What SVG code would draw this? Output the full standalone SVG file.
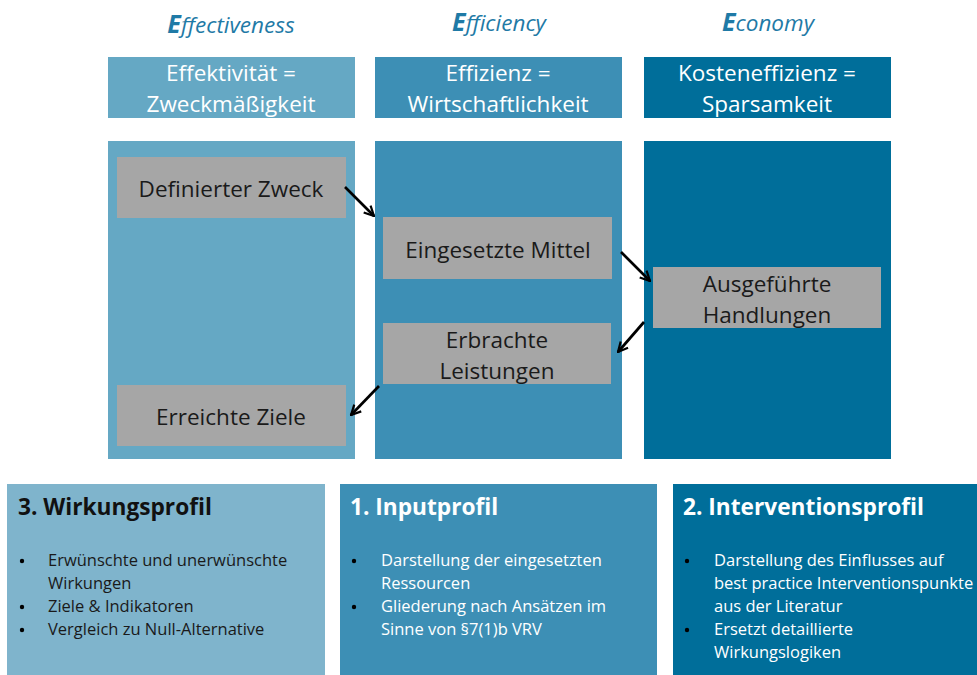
<svg xmlns="http://www.w3.org/2000/svg" width="977" height="675" viewBox="0 0 977 675">
<defs>
<marker id="ah" viewBox="0 0 10 10" refX="9" refY="5" markerWidth="4.5" markerHeight="4.5" orient="auto-start-reverse" markerUnits="strokeWidth">
<path d="M1,1 L9,5 L1,9" fill="none" stroke="#000" stroke-width="1.8"/>
</marker>
<style>
text{font-family:"Open Sans","Liberation Sans",sans-serif}
.ttl{font-style:italic;font-size:22.5px;fill:#1f7aa6}
.ttl .big{font-weight:bold;font-size:25px}
.hd{font-size:22.5px;fill:#fff;text-anchor:middle}
.gb{fill:#a6a6a6}
.gt{font-size:22.5px;fill:#1a1a1a;text-anchor:middle}
.c1{fill:#65a8c4}
.c2{fill:#3d8fb5}
.c3{fill:#006e9a}
.c1b{fill:#7fb4cc}
.bt{font-size:22.7px;font-weight:bold}
.li{font-size:16.5px}
.dot{fill:#000}
.conn line{stroke:#000;stroke-width:2.7}
</style>
</defs>
<rect width="977" height="675" fill="#fff"/>
<g id="titles">
<text class="ttl" x="231" y="33" text-anchor="middle"><tspan class="big">E</tspan>ffectiveness</text>
<text class="ttl" x="499" y="31" text-anchor="middle"><tspan class="big">E</tspan>fficiency</text>
<text class="ttl" x="768" y="31" text-anchor="middle"><tspan class="big">E</tspan>conomy</text>
</g>
<g id="head1"><rect class="c1" x="108" y="57" width="247" height="61"/>
<text class="hd" x="231" y="81">Effektivität =</text><text class="hd" x="231" y="112">Zweckmäßigkeit</text></g>
<g id="head2"><rect class="c2" x="375" y="57" width="247" height="61"/>
<text class="hd" x="498" y="81">Effizienz =</text><text class="hd" x="498" y="112">Wirtschaftlichkeit</text></g>
<g id="head3"><rect class="c3" x="644" y="57" width="247" height="61"/>
<text class="hd" x="767" y="81">Kosteneffizienz =</text><text class="hd" x="767" y="112">Sparsamkeit</text></g>
<g id="panel1"><rect class="c1" x="108" y="141" width="247" height="318"/></g>
<g id="panel2"><rect class="c2" x="375" y="141" width="247" height="318"/></g>
<g id="panel3"><rect class="c3" x="644" y="141" width="247" height="318"/></g>
<g id="zweck"><rect class="gb" x="117" y="157" width="229" height="61"/><text class="gt" x="231" y="197">Definierter Zweck</text></g>
<g id="mittel"><rect class="gb" x="383" y="217" width="229" height="62"/><text class="gt" x="498" y="258">Eingesetzte Mittel</text></g>
<g id="handlungen"><rect class="gb" x="653" y="267" width="228" height="61"/><text class="gt" x="767" y="292">Ausgeführte</text><text class="gt" x="767" y="323">Handlungen</text></g>
<g id="leistungen"><rect class="gb" x="383" y="323" width="228" height="61"/><text class="gt" x="497" y="348">Erbrachte</text><text class="gt" x="497" y="379">Leistungen</text></g>
<g id="ziele"><rect class="gb" x="117" y="385" width="229" height="61"/><text class="gt" x="231" y="425">Erreichte Ziele</text></g>
<g class="conn" id="connectors">
<line x1="345" y1="187" x2="374" y2="216" marker-end="url(#ah)"/>
<line x1="621" y1="252" x2="650" y2="281" marker-end="url(#ah)"/>
<line x1="644" y1="322" x2="618" y2="352" marker-end="url(#ah)"/>
<line x1="379" y1="386" x2="351" y2="415" marker-end="url(#ah)"/>
</g>
<g id="wirkungsprofil"><rect class="c1b" x="7" y="484" width="318" height="191"/>
<text class="bt" x="18" y="515" fill="#111">3. Wirkungsprofil</text>
<g class="li" fill="#1a1a1a">
<circle class="dot" cx="22" cy="561" r="2.2"/><text x="48" y="566">Erwünschte und unerwünschte</text>
<text x="48" y="589">Wirkungen</text>
<circle class="dot" cx="22" cy="607" r="2.2"/><text x="48" y="612">Ziele &amp; Indikatoren</text>
<circle class="dot" cx="22" cy="630" r="2.2"/><text x="48" y="635">Vergleich zu Null-Alternative</text>
</g></g>
<g id="inputprofil"><rect class="c2" x="340" y="484" width="317" height="191"/>
<text class="bt" x="350" y="515" fill="#fff">1. Inputprofil</text>
<g class="li" fill="#fff">
<circle class="dot" cx="354" cy="561" r="2.2"/><text x="381" y="566">Darstellung der eingesetzten</text>
<text x="381" y="589">Ressourcen</text>
<circle class="dot" cx="354" cy="607" r="2.2"/><text x="381" y="612">Gliederung nach Ansätzen im</text>
<text x="381" y="635">Sinne von §7(1)b VRV</text>
</g></g>
<g id="interventionsprofil"><rect class="c3" x="673" y="484" width="304" height="191"/>
<text class="bt" x="683" y="515" fill="#fff">2. Interventionsprofil</text>
<g class="li" fill="#fff">
<circle class="dot" cx="687" cy="561" r="2.2"/><text x="714" y="566">Darstellung des Einflusses auf</text>
<text x="714" y="589">best practice Interventionspunkte</text>
<text x="714" y="612">aus der Literatur</text>
<circle class="dot" cx="687" cy="630" r="2.2"/><text x="714" y="635">Ersetzt detaillierte</text>
<text x="714" y="658">Wirkungslogiken</text>
</g></g>
</svg>
